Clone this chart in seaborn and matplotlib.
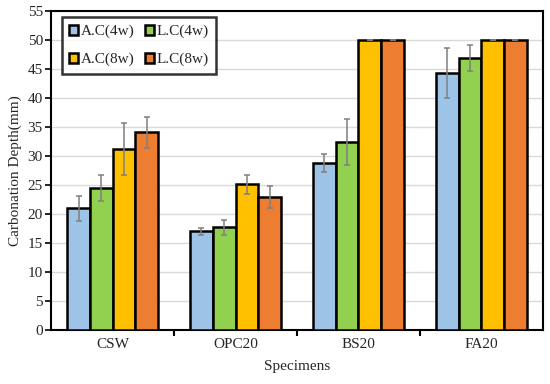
import matplotlib
matplotlib.use("Agg")
import matplotlib.pyplot as plt
import seaborn as sns
import pandas as pd
import numpy as np

categories = ["CSW", "OPC20", "BS20", "FA20"]
series = ["A.C(4w)", "L.C(4w)", "A.C(8w)", "L.C(8w)"]
ac4 = [21.0, 17.0, 28.8, 44.4]
lc4 = [24.5, 17.7, 32.4, 46.9]
ac8 = [31.2, 25.1, 50.0, 50.0]
lc8 = [34.1, 22.9, 50.0, 50.0]
ac4_err = [2.2, 0.6, 1.5, 4.3]
lc4_err = [2.2, 1.3, 4.0, 2.2]
ac8_err = [4.5, 1.6, 0.0, 0.0]
lc8_err = [2.7, 1.9, 0.0, 0.0]
colors = ["#9DC3E6", "#92D050", "#FFC000", "#ED7D31"]
yticks = [0, 5, 10, 15, 20, 25, 30, 35, 40, 45, 50, 55]

vals = [ac4, lc4, ac8, lc8]
errs = [ac4_err, lc4_err, ac8_err, lc8_err]
rows = []
for s, v in zip(series, vals):
    for c, x in zip(categories, v):
        rows.append({"Specimen": c, "Series": s, "Depth": x})
df = pd.DataFrame(rows)

sns.set_theme(style="white")
plt.rcParams["font.family"] = ["Liberation Serif", "DejaVu Serif"]

fig = plt.figure(figsize=(5.5, 3.84), dpi=100)
ax = fig.add_axes([0.093, 0.1406, 0.894, 0.8304])

sns.barplot(data=df, x="Specimen", y="Depth", hue="Series", order=categories,
            hue_order=series, palette=colors, saturation=1, edgecolor="black",
            linewidth=1.8, width=0.74, gap=0, errorbar=None, ax=ax, zorder=3)

for cont, e in zip(ax.containers, errs):
    xs = [p.get_x() + p.get_width() / 2 for p in cont.patches]
    hs = [p.get_height() for p in cont.patches]
    ax.errorbar(xs, hs, yerr=e, fmt="none", ecolor="#7f7f7f", elinewidth=1.1,
                capsize=2.5, capthick=1.1, zorder=4)

ax.set_ylim(0, 55)
ax.set_xlim(-0.5, 3.5)
ax.set_yticks(yticks)
ax.yaxis.grid(True, color="#d9d9d9", linewidth=1.0, zorder=0)
ax.set_axisbelow(True)
for sp in ax.spines.values():
    sp.set_color("black")
    sp.set_linewidth(1.5)

ax.set_xticks(range(len(categories)))
ax.set_xticklabels(categories)
ax.tick_params(axis="x", which="major", length=0, labelsize=11, pad=6)
ax.set_xticks([0.5, 1.5, 2.5], minor=True)
ax.tick_params(axis="x", which="minor", length=4, width=1.5, direction="out", color="black", bottom=True)
ax.tick_params(axis="y", which="major", length=4, width=1.2, direction="out", color="black", labelsize=11, left=True, pad=2)

ax.set_xlabel("Specimens", fontsize=11, labelpad=6)
ax.set_ylabel("Carbonation Depth(mm)", fontsize=11, labelpad=4)

handles, labels = ax.get_legend_handles_labels()
order = [0, 2, 1, 3]
leg = ax.legend([handles[i] for i in order], [labels[i] for i in order],
                ncol=2, loc="upper left", bbox_to_anchor=(0.012, 0.995), fontsize=11,
                frameon=True, fancybox=False, edgecolor="black", handlelength=0.6,
                handleheight=0.6, handletextpad=0.15, columnspacing=0.7,
                labelspacing=0.95, borderpad=0.5, borderaxespad=0.3, title=None)
leg.get_frame().set_linewidth(1.8)

fig.savefig("out.png", dpi=100)
